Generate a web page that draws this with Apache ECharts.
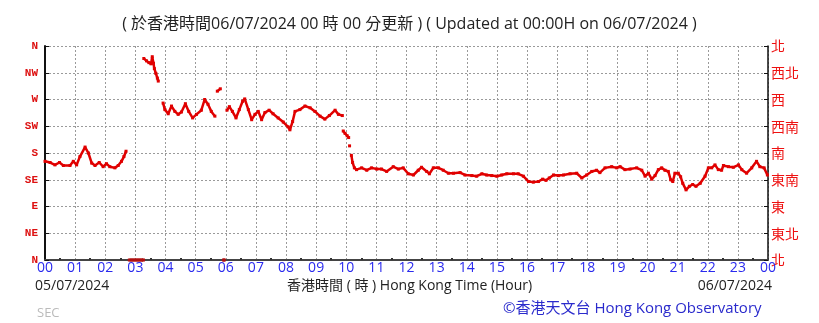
<!DOCTYPE html>
<html>
<head>
<meta charset="utf-8">
<script src="https://cdn.jsdelivr.net/npm/echarts@6/dist/echarts.min.js"></script>
<style>
html,body{margin:0;padding:0;background:#fff;}
#chart{width:819px;height:323px;}
</style>
</head>
<body>
<div id="chart"></div>
<script>
// ---- data (hour of day, wind direction in degrees; null = gap) ----
var hours = [
  0.00,0.17,0.33,0.48,0.61,0.83,0.94,1.05,1.16,1.33,1.44,1.55,1.66,1.80,1.93,2.04,2.15,2.32,2.43,2.54,2.62,2.69,2.70,
  3.28,3.37,3.45,3.52,3.56,3.60,3.63,3.68,3.73,3.76,3.80,
  3.92,3.98,4.09,4.20,4.31,4.42,4.53,4.66,4.77,4.90,5.03,5.19,5.30,5.41,5.52,5.64,5.66,
  5.72,5.82,5.84,
  6.04,6.12,6.22,6.34,6.45,6.56,6.63,6.75,6.86,6.97,7.08,7.19,7.30,7.44,7.57,7.74,7.91,8.07,8.13,8.22,8.30,8.46,8.63,8.80,8.96,9.13,9.29,9.44,9.63,9.74,9.87,9.88,
  9.90,9.96,10.03,10.08,10.09,
  10.11,10.13,
  10.17,10.21,10.27,10.34,10.51,10.68,10.84,11.01,11.17,11.34,11.56,11.73,11.89,12.06,12.23,12.39,12.50,12.67,12.76,12.89,13.06,13.22,13.39,13.56,13.78,13.94,
  14.17,14.33,14.50,14.66,14.83,15.00,15.16,15.33,15.55,15.71,15.88,16.05,16.21,16.38,16.52,16.63,16.74,16.88,17.04,17.21,17.43,17.65,17.82,17.98,
  18.15,18.31,18.42,18.59,18.81,18.98,19.09,19.25,19.42,19.64,19.81,19.92,20.03,20.14,20.25,20.36,20.47,20.58,20.69,20.77,20.84,20.91,21.02,21.10,21.17,
  21.28,21.39,21.50,21.61,21.75,21.91,22.02,22.13,22.24,22.35,22.46,22.52,22.69,22.85,23.02,23.13,23.29,23.46,23.62,23.73,23.87,23.98
];
var directions = [
  166,164,160,164,159,159,166,160,174,190,180,163,159,164,157,162,157,155,159,166,174,183,null,
  339,335,332,330,342,331,322,314,306,301,null,
  264,253,246,259,250,245,249,263,250,239,245,252,270,262,250,242,null,
  284,288,null,
  252,258,250,239,253,267,271,253,236,245,250,236,248,252,246,239,232,224,219,233,250,253,259,256,250,242,237,243,252,245,243,null,
  217,213,209,206,null,
  192,null,
  176,164,155,152,155,151,155,153,153,149,157,153,155,145,143,151,156,149,145,155,155,151,146,146,147,143,
  142,141,145,143,142,141,143,145,145,145,141,132,131,132,136,134,138,143,142,143,145,146,138,143,
  149,151,147,155,157,155,157,152,153,155,151,141,146,136,142,152,155,151,149,135,132,146,146,140,129,
  118,124,127,124,129,141,155,155,160,152,151,159,157,156,160,152,146,155,166,157,155,143
];
// calm readings (plotted at N / 0 degrees)
var calmHours = [2.80,2.90,3.00,3.10,3.20,3.27,3.28, 5.93,5.95];
var calmValues = [0,0,0,0,0,0,null, 0,0];

var dirLabelsEn = ['N','NE','E','SE','S','SW','W','NW','N'];
var dirLabelsZh = ['北','東北','東','東南','南','西南','西','西北','北'];
var hourLabels = ['00','01','02','03','04','05','06','07','08','09','10','11','12','13','14','15','16','17','18','19','20','21','22','23','00'];

var titleText = '( 於香港時間06/07/2024 00 時 00 分更新 ) ( Updated at 00:00H on 06/07/2024 )';
var startDate = '05/07/2024';
var endDate = '06/07/2024';
var axisName = '香港時間 ( 時 ) Hong Kong Time (Hour)';
var credit = '©香港天文台 Hong Kong Observatory';
var station = 'SEC';

var seriesData = hours.map(function(h,i){ return [h, directions[i]]; });
var calmData = calmHours.map(function(h,i){ return [h, calmValues[i]]; });

var chart = echarts.init(document.getElementById('chart'), null, {renderer:'canvas'});
var FONT = '"Open Sans","Noto Sans CJK TC",sans-serif';
var dotted = {show:true, lineStyle:{color:'#9a9a9a', type:[2,2], width:1}};

chart.setOption({
  animation:false,
  backgroundColor:'#ffffff',
  grid:{left:45, right:51, top:46, bottom:63, containLabel:false},
  xAxis:{
    type:'value', min:0, max:24, interval:1,
    axisLine:{show:true, onZero:false, lineStyle:{color:'#444444', width:2}},
    axisTick:{show:false},
    minorTick:{show:true, splitNumber:2, length:-2, lineStyle:{color:'#333', width:2}},
    axisLabel:{color:'#2a2aee', fontSize:14, fontFamily:FONT, margin:1,
      formatter:function(v){ return hourLabels[Math.round(v)]; }},
    splitLine:dotted
  },
  yAxis:[{
    type:'value', min:0, max:360, interval:45, position:'left',
    axisLine:{show:true, lineStyle:{color:'#111111', width:2}},
    axisTick:{show:true, inside:true, length:4, lineStyle:{color:'#111', width:1}},
    axisLabel:{color:'#dd1111', fontSize:11, fontWeight:'bold', fontFamily:'"Liberation Mono","DejaVu Sans Mono",monospace', margin:7,
      formatter:function(v){ return dirLabelsEn[Math.round(v/45)]; }},
    splitLine:dotted
  },{
    type:'value', min:0, max:360, interval:45, position:'right',
    axisLine:{show:true, lineStyle:{color:'#111111', width:1.5}},
    axisTick:{show:true, inside:true, length:4, lineStyle:{color:'#111', width:1}},
    axisLabel:{color:'#ee1111', fontSize:14, fontFamily:'"Noto Sans CJK TC",sans-serif', margin:3,
      formatter:function(v){ return dirLabelsZh[Math.round(v/45)]; }},
    splitLine:{show:false}
  }],
  title:{
    text:titleText, left:'center', top:11,
    textStyle:{fontSize:16, fontWeight:'normal', color:'#222', fontFamily:FONT}
  },
  graphic:[
    {type:'text', left:35, top:279, style:{text:startDate, fill:'#222', font:'14px '+FONT}},
    {type:'text', right:47, top:279, style:{text:endDate, fill:'#222', font:'14px '+FONT}},
    {type:'text', left:287, top:279, style:{text:axisName, fill:'#222', font:'14px '+FONT}},
    {type:'text', left:503, top:301, style:{text:credit, fill:'#2a2acc', font:'15px '+FONT}},
    {type:'text', left:37, top:307, style:{text:station, fill:'#bbbbbb', font:'13px '+FONT}}
  ],
  series:[{
    type:'line', data:seriesData, yAxisIndex:0, connectNulls:false,
    showSymbol:true, symbol:'rect', symbolSize:3,
    itemStyle:{color:'#e00000'},
    lineStyle:{color:'#e00000', width:2.5},
    z:5
  },{
    type:'line', data:calmData, yAxisIndex:0, connectNulls:false,
    showSymbol:true, symbol:'rect', symbolSize:3,
    itemStyle:{color:'#b01010'},
    lineStyle:{color:'#b01010', width:3},
    clip:false, z:6
  }]
});
</script>
</body>
</html>
